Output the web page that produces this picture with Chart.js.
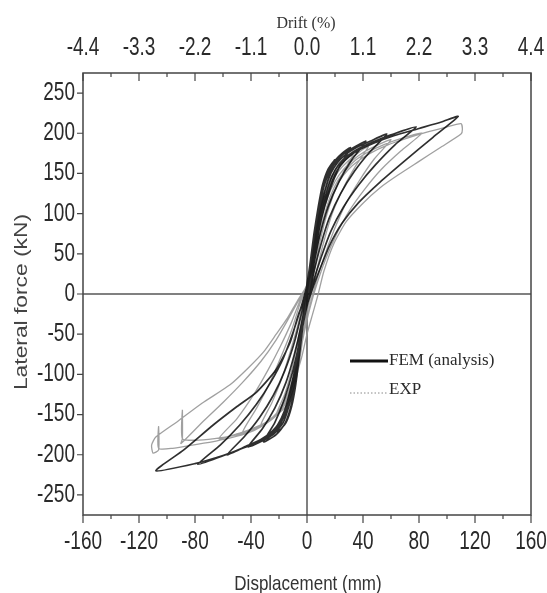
<!DOCTYPE html>
<html>
<head>
<meta charset="utf-8">
<script src="https://cdn.jsdelivr.net/npm/chart.js@4.4.1/dist/chart.umd.min.js"></script>
<style>
  html, body { margin: 0; padding: 0; background: #fff; }
  #wrap { width: 547px; height: 593px; }
</style>
</head>
<body>
<div id="wrap"><canvas id="hyst" width="547" height="593"></canvas></div>
<script>
/*************************************************
 * Axis ticks and titles
 *************************************************/
const dispTicks = [-160, -120, -80, -40, 0, 40, 80, 120, 160];
const driftLabels = ["-4.4", "-3.3", "-2.2", "-1.1", "0.0", "1.1", "2.2", "3.3", "4.4"];
const forceTicks = [-250, -200, -150, -100, -50, 0, 50, 100, 150, 200, 250];
const xTitle = "Displacement (mm)";
const topTitle = "Drift (%)";
const yTitle = "Lateral force (kN)";

/*************************************************
 * FEM (analysis) cycles  [displacement mm, force kN]
 *************************************************/
const fem1 = [[-1,0],[2,35],[5,75],[8,108],[11,135],[15,155],[20,167],
  [15,142],[10,110],[6,72],[3,35],[0,0],
  [-2,-25],[-5,-70],[-8,-112],[-11,-140],[-15,-160],[-21,-172],
  [-15,-145],[-10,-112],[-6,-75],[-3,-38],[-1,0]];
const fem2 = [[2,35],[5,75],[8,107],[11,133],[15,153],[20,166],[25,175],[31,182],
  [23,158],[16,128],[10,92],[6,55],[2,15],[0,-10],
  [-3,-40],[-6,-82],[-9,-118],[-12,-143],[-16,-162],[-22,-175],[-31,-184],
  [-23,-160],[-16,-130],[-10,-95],[-5,-55],[-2,-18],[0,5]];
const fem3 = [[3,40],[6,78],[9,108],[12,133],[16,152],[21,165],[26,174],[33,182],[42,190],
  [32,167],[23,140],[15,108],[9,72],[5,38],[1,0],
  [-3,-38],[-6,-78],[-9,-112],[-13,-140],[-17,-160],[-23,-173],[-31,-182],[-42,-190],
  [-32,-168],[-23,-142],[-15,-110],[-9,-75],[-4,-38],[0,0]];
const fem4 = [[3,35],[6,72],[10,106],[13,130],[17,150],[22,164],[28,174],[35,182],[45,190],[57,199],
  [45,177],[34,153],[24,125],[16,95],[10,62],[5,28],[1,-5],
  [-3,-40],[-7,-80],[-10,-112],[-14,-140],[-18,-158],[-24,-172],[-32,-181],[-43,-189],[-57,-200],
  [-45,-178],[-34,-154],[-24,-126],[-16,-96],[-9,-60],[-4,-25],[0,5]];
const fem5 = [[3,30],[7,70],[10,100],[14,127],[18,147],[23,162],[29,172],[37,181],[47,189],[60,198],[78,208],
  [63,186],[49,161],[37,136],[26,108],[17,78],[10,45],[4,12],[0,-15],
  [-4,-45],[-7,-82],[-11,-114],[-15,-140],[-19,-158],[-25,-171],[-33,-181],[-44,-190],[-58,-200],[-78,-212],
  [-62,-188],[-48,-163],[-36,-137],[-26,-110],[-17,-80],[-10,-48],[-4,-15],[0,10]];
const fem6 = [[4,35],[7,68],[11,100],[15,125],[19,145],[24,160],[30,171],[38,180],[48,188],[62,197],[80,206],[96,214],[108,221],
  [90,195],[70,166],[52,139],[37,114],[25,88],[16,60],[9,30],[3,2],[-1,-20],
  [-4,-50],[-8,-88],[-12,-120],[-16,-145],[-21,-163],[-27,-175],[-35,-184],[-46,-192],[-60,-201],[-80,-211],[-108,-220],
  [-88,-194],[-67,-163],[-50,-140],[-36,-122],[-22,-94],[-12,-60],[-6,-25],[0,0]];

/*************************************************
 * EXP cycles  [displacement mm, force kN]
 *************************************************/
const exp1 = [[0,0],[3,35],[6,72],[9,102],[13,128],[17,145],[22,158],
  [17,135],[12,105],[8,70],[5,35],[2,0],
  [-1,-30],[-4,-68],[-7,-100],[-11,-125],[-16,-142],[-22,-150],
  [-16,-125],[-11,-95],[-7,-62],[-3,-25],[0,5]];
const exp2 = [[3,35],[6,70],[9,100],[13,126],[17,143],[22,156],[27,166],[33,174],
  [26,152],[19,124],[13,92],[8,55],[4,18],[1,-10],
  [-2,-40],[-5,-75],[-9,-106],[-13,-128],[-18,-144],[-25,-155],[-33,-163],
  [-25,-135],[-18,-105],[-12,-72],[-6,-35],[-2,-5],[1,15]];
const exp3 = [[4,40],[7,72],[10,100],[14,124],[18,141],[23,154],[29,165],[36,175],[44,184],
  [35,160],[26,132],[18,100],[12,65],[7,30],[3,0],
  [-1,-30],[-4,-65],[-8,-98],[-12,-123],[-17,-141],[-23,-153],[-30,-162],[-37,-167],[-46,-172],
  [-36,-142],[-27,-112],[-19,-80],[-11,-45],[-5,-12],[0,12]];
const exp4 = [[4,38],[8,72],[11,98],[15,121],[20,140],[26,155],[33,167],[41,177],[50,185],[60,192],
  [48,168],[37,140],[27,110],[19,78],[12,45],[6,12],[2,-15],
  [-2,-45],[-6,-80],[-10,-108],[-15,-130],[-21,-147],[-28,-158],[-37,-166],[-48,-173],[-63,-180],
  [-50,-155],[-38,-125],[-28,-95],[-19,-65],[-11,-35],[-5,-8],[1,15]];
const exp5 = [[5,40],[9,75],[13,102],[17,123],[22,141],[28,155],[35,167],[44,177],[55,186],[68,194],[82,200],
  [67,178],[53,155],[41,130],[30,103],[21,74],[13,42],[7,12],[2,-18],
  [-2,-48],[-6,-82],[-11,-110],[-16,-132],[-22,-149],[-30,-161],[-40,-170],[-52,-176],[-66,-180],[-80,-182],
  [-89,-180],[-89,-144],[-89,-180],[-90,-186],
  [-75,-160],[-60,-135],[-46,-110],[-33,-84],[-22,-57],[-13,-30],[-6,-8],[1,15]];
const exp6 = [[5,38],[9,72],[13,100],[18,122],[23,140],[29,154],[37,166],[46,176],[57,185],[70,193],[85,201],[98,207],[110,212],[111,205],[110,199],
  [95,182],[80,165],[65,148],[52,132],[40,113],[28,90],[19,62],[12,28],[8,0],[4,-25],
  [0,-50],[-4,-80],[-9,-108],[-14,-130],[-20,-147],[-28,-160],[-38,-170],[-50,-177],[-65,-183],[-82,-188],[-96,-192],
  [-106,-192],[-106,-165],[-106,-194],[-110,-198],[-111,-188],[-108,-178],
  [-92,-158],[-75,-136],[-55,-113],[-42,-92],[-31,-72],[-22,-50],[-14,-30],[-7,-9],[0,10]];

const toPoints = cycles => cycles.flat().map(p => ({ x: p[0], y: p[1] }));

// narrow-looking text: regular sans squeezed sideways
function squeezed(ctx, text, x, y, sx, sy) {
  ctx.save();
  ctx.translate(x, y);
  ctx.scale(sx, sy);
  ctx.fillText(text, 0, 0);
  ctx.restore();
}

/*************************************************
 * Frame, tick marks, labels and inset legend
 *************************************************/
const frameAndLegend = {
  id: "frameAndLegend",
  afterDatasetsDraw(chart) {
    const { ctx, chartArea: a, scales } = chart;
    const xs = scales.x;
    const ys = scales.y;
    ctx.save();
    ctx.strokeStyle = "#444";
    ctx.lineWidth = 1.5;
    ctx.strokeRect(a.left, a.top, a.right - a.left, a.bottom - a.top);

    // tick marks (major at labels, minor half way)
    ctx.lineWidth = 1.2;
    ctx.beginPath();
    dispTicks.forEach((v, i) => {
      const px = xs.getPixelForValue(v);
      ctx.moveTo(px, a.bottom); ctx.lineTo(px, a.bottom + 8);
      ctx.moveTo(px, a.top); ctx.lineTo(px, a.top + 8);
      if (i < dispTicks.length - 1) {
        const mx = xs.getPixelForValue((v + dispTicks[i + 1]) / 2);
        ctx.moveTo(mx, a.bottom); ctx.lineTo(mx, a.bottom + 4);
        ctx.moveTo(mx, a.top); ctx.lineTo(mx, a.top + 4);
      }
    });
    forceTicks.forEach(v => {
      const py = ys.getPixelForValue(v);
      ctx.moveTo(a.left - 6, py); ctx.lineTo(a.left, py);
    });
    ctx.stroke();

    // tick labels
    ctx.fillStyle = "#2a2a2a";
    ctx.font = "25px 'Liberation Sans', sans-serif";
    ctx.textBaseline = "middle";
    ctx.textAlign = "center";
    dispTicks.forEach((v, i) => {
      const px = xs.getPixelForValue(v);
      squeezed(ctx, String(v), px, 542, 0.76, 1);
      squeezed(ctx, driftLabels[i], px, 48, 0.76, 1);
    });
    ctx.textAlign = "right";
    forceTicks.forEach(v => {
      squeezed(ctx, String(v), a.left - 8, ys.getPixelForValue(v), 0.76, 1);
    });

    // axis titles
    ctx.textAlign = "center";
    ctx.fillStyle = "#333";
    ctx.font = "17px 'Liberation Sans', sans-serif";
    squeezed(ctx, xTitle, 308, 585, 1, 1.15);
    ctx.font = "16px 'Liberation Serif', serif";
    squeezed(ctx, topTitle, 306, 23, 1, 1.1);
    ctx.fillStyle = "#444";
    ctx.font = "19px 'Liberation Sans', sans-serif";
    ctx.save();
    ctx.translate(22, 302);
    ctx.rotate(-Math.PI / 2);
    squeezed(ctx, yTitle, 0, 0, 1.2, 1);
    ctx.restore();

    // legend
    const lx = 350, ly = 361;
    ctx.strokeStyle = "#111";
    ctx.lineWidth = 3;
    ctx.beginPath(); ctx.moveTo(lx, ly); ctx.lineTo(lx + 38, ly); ctx.stroke();
    ctx.strokeStyle = "#888";
    ctx.lineWidth = 1;
    ctx.setLineDash([1.5, 2]);
    ctx.beginPath(); ctx.moveTo(lx, ly + 32); ctx.lineTo(lx + 38, ly + 32); ctx.stroke();
    ctx.setLineDash([]);
    ctx.fillStyle = "#2a2a2a";
    ctx.font = "17px 'Liberation Serif', serif";
    ctx.textAlign = "left";
    ctx.fillText("FEM (analysis)", lx + 39, ly);
    ctx.fillText("EXP", lx + 39, ly + 29);
    ctx.restore();
  }
};

/*************************************************
 * Chart
 *************************************************/
const zeroLine = ctx => (ctx.tick && ctx.tick.value === 0 ? "#808080" : "rgba(0,0,0,0)");

new Chart(document.getElementById("hyst"), {
  type: "scatter",
  data: {
    datasets: [
      {
        label: "FEM (analysis)",
        data: toPoints([fem1, fem2, fem3, fem4, fem5, fem6]),
        showLine: true,
        borderColor: "rgba(10,10,10,0.85)",
        borderWidth: 1.7,
        pointRadius: 0,
        tension: 0.2
      },
      {
        label: "EXP",
        data: toPoints([exp1, exp2, exp3, exp4, exp5, exp6]),
        showLine: true,
        borderColor: "rgba(150,150,150,0.9)",
        borderWidth: 1.3,
        pointRadius: 0,
        tension: 0.2
      }
    ]
  },
  options: {
    responsive: false,
    animation: false,
    layout: { padding: { left: 0, right: 16, top: 0, bottom: 0 } },
    plugins: { legend: { display: false }, tooltip: { enabled: false } },
    scales: {
      x: {
        type: "linear",
        position: "bottom",
        min: -160,
        max: 160,
        afterBuildTicks: s => { s.ticks = dispTicks.map(v => ({ value: v })); },
        afterFit: s => { s.height = 78; },
        ticks: { display: false },
        grid: { color: zeroLine, lineWidth: 2, drawTicks: false },
        border: { display: false }
      },
      y: {
        type: "linear",
        min: -275,
        max: 275,
        afterBuildTicks: s => { s.ticks = forceTicks.map(v => ({ value: v })); },
        afterFit: s => { s.width = 83; },
        ticks: { display: false },
        grid: { color: zeroLine, lineWidth: 2, drawTicks: false },
        border: { display: false }
      },
      x2: {
        type: "linear",
        position: "top",
        min: -160,
        max: 160,
        afterFit: s => { s.height = 73; },
        ticks: { display: false },
        grid: { display: false, drawTicks: false },
        border: { display: false }
      }
    }
  },
  plugins: [frameAndLegend]
});
</script>
</body>
</html>
